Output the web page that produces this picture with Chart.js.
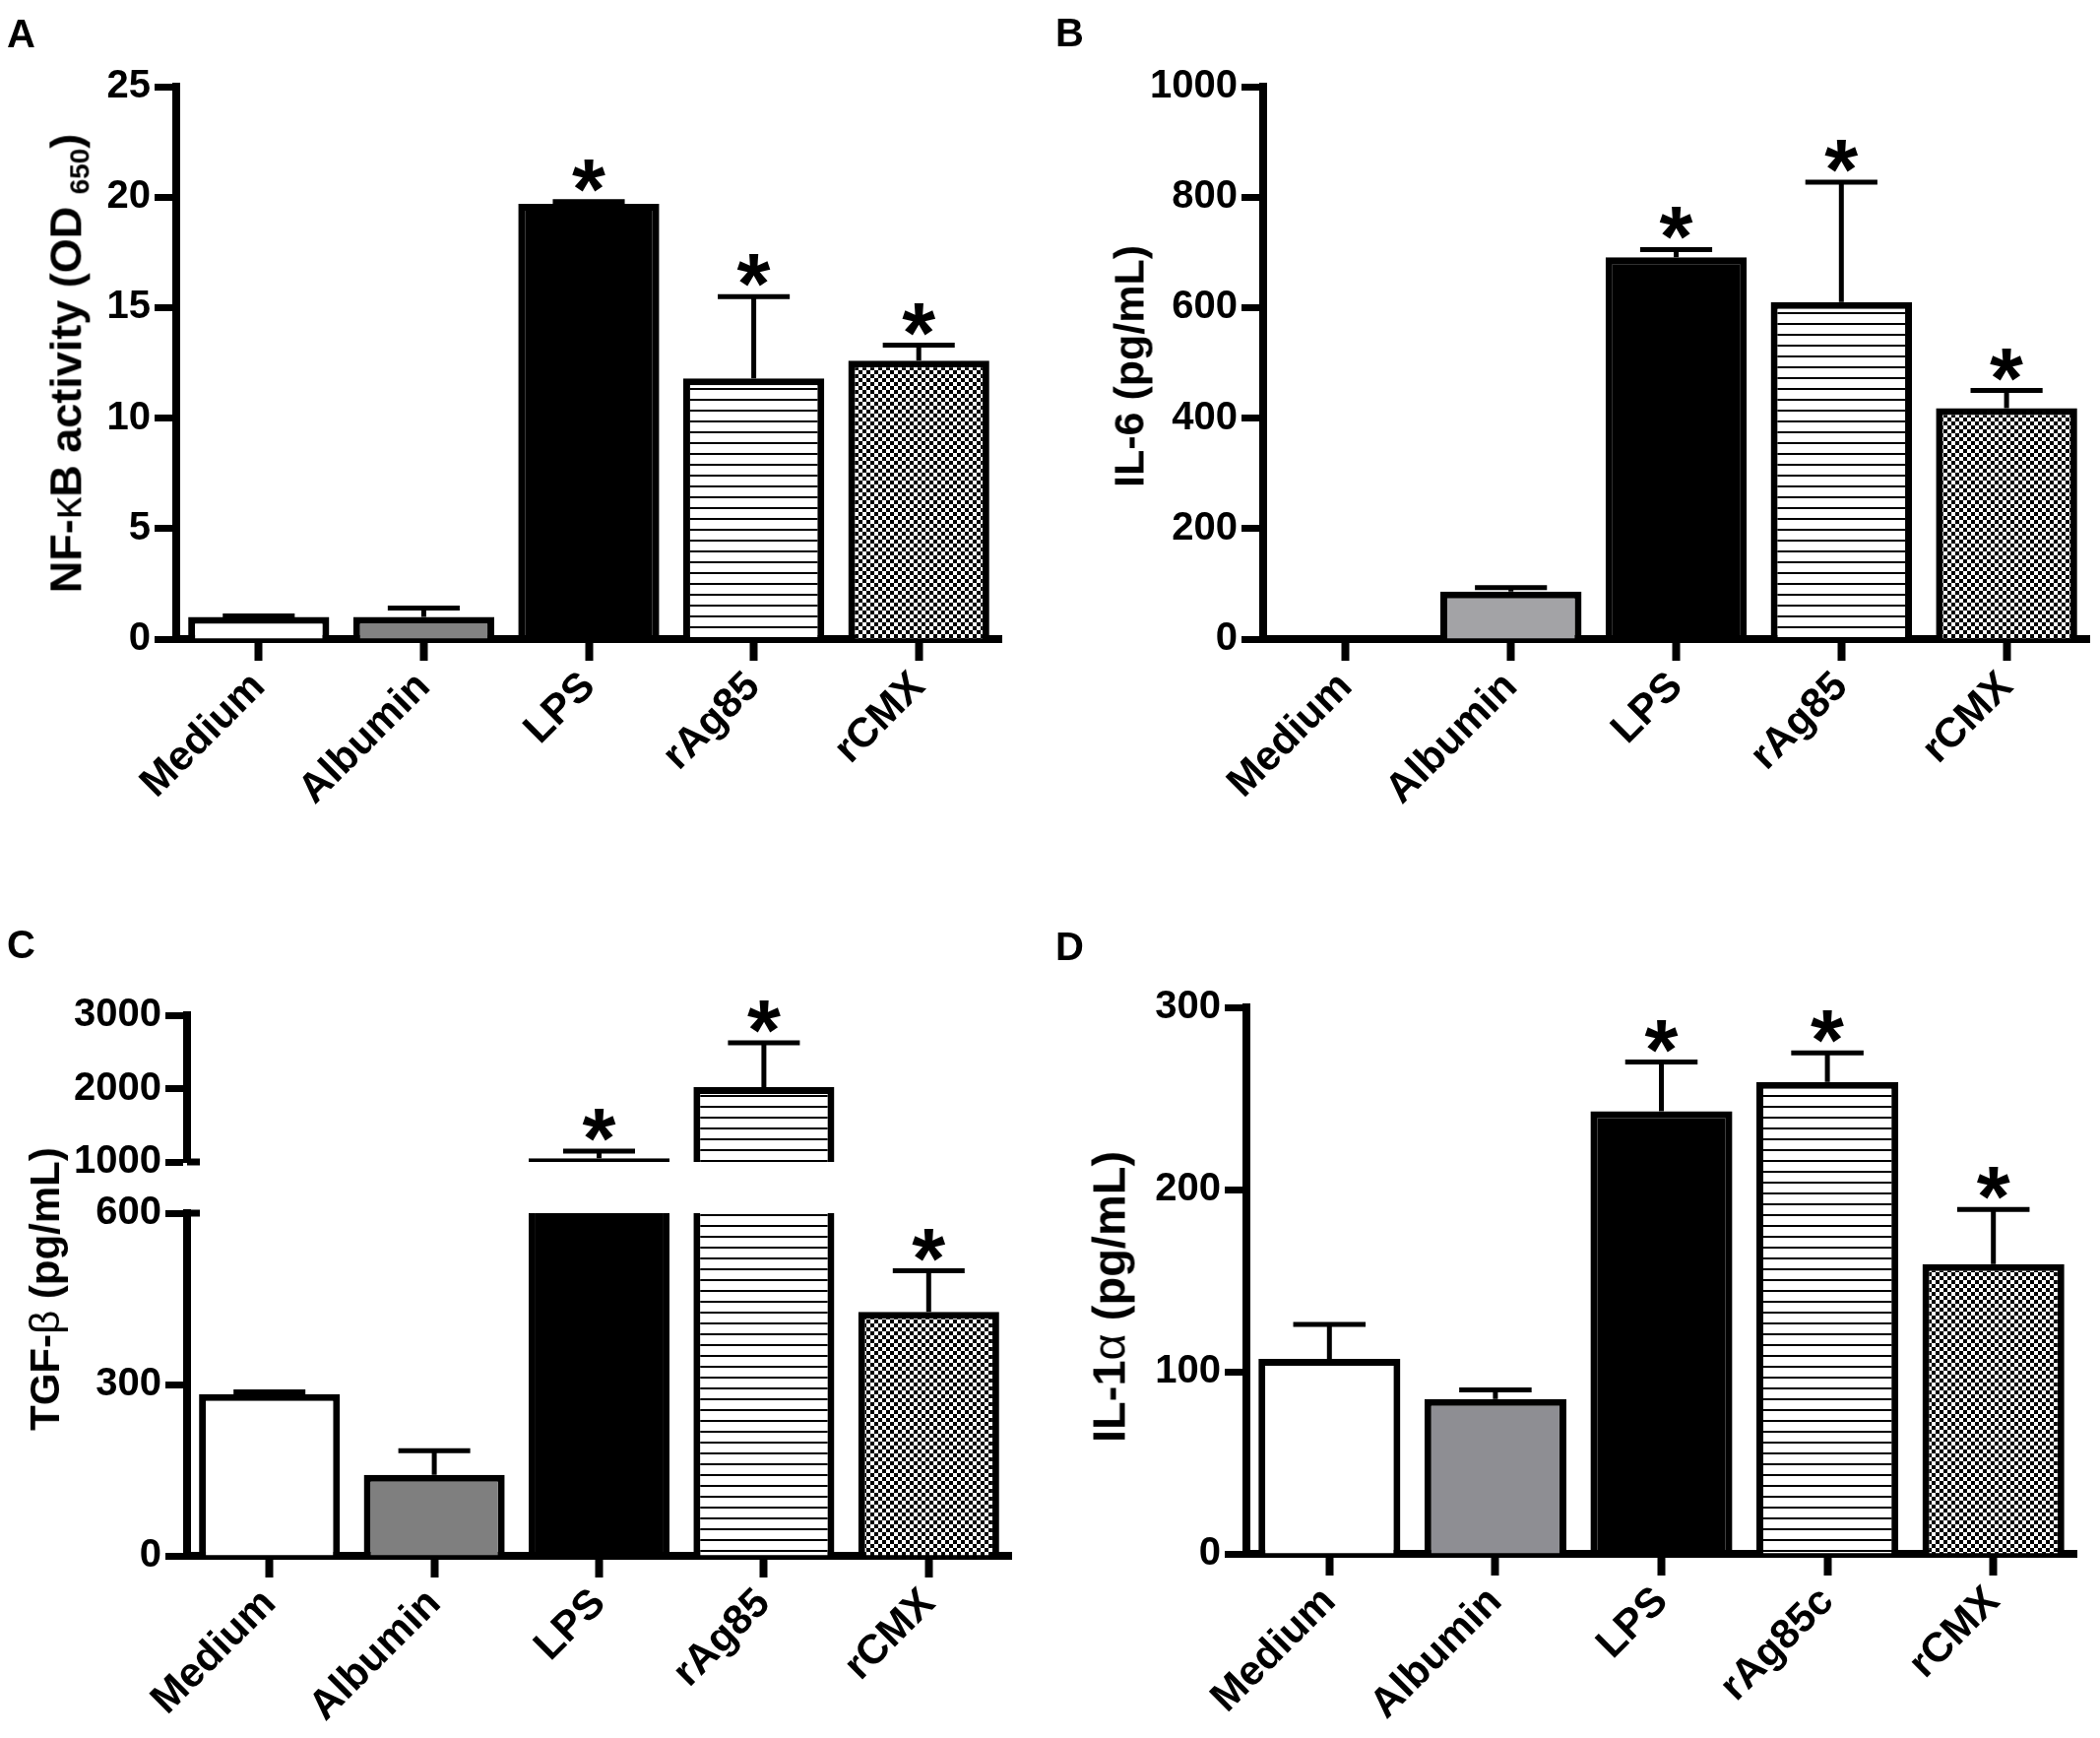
<!DOCTYPE html>
<html>
<head>
<meta charset="utf-8">
<script src="https://cdn.jsdelivr.net/npm/chart.js@4.4.1/dist/chart.umd.min.js"></script>
<style>
  body { margin: 0; background: #fff; }
  #fig { position: relative; width: 2133px; height: 1765px; overflow: hidden; background: #fff; }
  canvas { position: absolute; }
  .panel, .ytitle { position: absolute; font-family: "Liberation Sans", Arial, sans-serif; font-weight: bold; color: #000; line-height: 1; white-space: nowrap; }
  .panel { font-size: 40px; }
  .ytitle { transform: translate(-50%, -50%) rotate(-90deg); }
  .ytitle .gr { font-weight: normal; }
  .ytitle sub { font-size: 0.62em; vertical-align: -0.3em; }
</style>
</head>
<body>
<div id="fig">
  <canvas id="chartA" style="left:0;top:0"></canvas>
  <canvas id="chartB" style="left:1066px;top:0"></canvas>
  <canvas id="chartCTop" style="left:0;top:960px"></canvas>
  <canvas id="chartCBottom" style="left:0;top:1180px"></canvas>
  <canvas id="chartD" style="left:1066px;top:960px"></canvas>

  <div class="panel" style="left:7px;top:14px">A</div>
  <div class="panel" style="left:1072px;top:13px">B</div>
  <div class="panel" style="left:7px;top:939px">C</div>
  <div class="panel" style="left:1072px;top:941px">D</div>

  <div class="ytitle" style="left:70px;top:369px;font-size:45px">NF-<span class="gr">κ</span>B activity (OD <sub>650</sub>)</div>
  <div class="ytitle" style="left:1147px;top:372px;font-size:43px">IL-6 (pg/mL)</div>
  <div class="ytitle" style="left:46px;top:1309px;font-size:42px">TGF-<span class="gr">β</span> (pg/mL)</div>
  <div class="ytitle" style="left:1126px;top:1317px;font-size:47px">IL-1<span class="gr">α</span> (pg/mL)</div>
</div>

<script>
// Categories
const groups = ['Medium', 'Albumin', 'LPS', 'rAg85', 'rCMX'];
const groupsD = ['Medium', 'Albumin', 'LPS', 'rAg85c', 'rCMX'];
const starred = [false, false, true, true, true];

// A: NF-kB activity (OD650)
const nfkbMean = [1.0, 1.0, 19.7, 11.8, 12.6];
const nfkbUpper = [1.05, 1.4, 19.8, 15.5, 13.3];
const nfkbTicks = [0, 5, 10, 15, 20, 25];

// B: IL-6 (pg/mL)
const il6Mean = [0, 86, 691, 610, 418];
const il6Upper = [0, 93, 705, 827, 450];
const il6Ticks = [0, 200, 400, 600, 800, 1000];

// C: TGF-beta (pg/mL), broken axis
const tgfMean = [283, 142, 1050, 2020, 427];
const tgfUpper = [287, 184, 1146, 2624, 499];
const tgfTicksLow = [0, 300, 600];
const tgfTicksHigh = [1000, 2000, 3000];

// D: IL-1alpha (pg/mL)
const il1aMean = [107, 85, 243, 259, 159];
const il1aUpper = [126, 90, 270, 275, 189];
const il1aTicks = [0, 100, 200, 300];

const FONT = '"Liberation Sans", Arial, sans-serif';
Chart.defaults.font.family = FONT;
Chart.defaults.font.weight = 'bold';
Chart.defaults.color = '#000';

// Fill patterns
function stripes() {
    const c = document.createElement('canvas');
    c.width = 8; c.height = 11;
    const g = c.getContext('2d');
    g.fillStyle = '#fff'; g.fillRect(0, 0, 8, 11);
    g.fillStyle = '#000'; g.fillRect(0, 9, 8, 2);
    return g.createPattern(c, 'repeat');
}
function checker() {
    const c = document.createElement('canvas');
    c.width = 8; c.height = 8;
    const g = c.getContext('2d');
    g.fillStyle = '#fff'; g.fillRect(0, 0, 8, 8);
    g.fillStyle = '#000'; g.fillRect(0, 0, 4, 4); g.fillRect(4, 4, 4, 4);
    return g.createPattern(c, 'repeat');
}

function drawStar(ctx, cx, bottomY) {
    ctx.font = 'bold 100px ' + FONT;
    let m = ctx.measureText('*');
    const size = 100 * 34 / (m.actualBoundingBoxLeft + m.actualBoundingBoxRight);
    ctx.font = 'bold ' + size + 'px ' + FONT;
    m = ctx.measureText('*');
    ctx.textAlign = 'left';
    ctx.textBaseline = 'alphabetic';
    ctx.fillText('*', cx - (m.actualBoundingBoxRight - m.actualBoundingBoxLeft) / 2, bottomY - m.actualBoundingBoxDescent);
}

// SEM bars (upper side only) plus significance stars
const errorBars = {
    id: 'errorBars',
    afterDatasetsDraw(chart, args, opts) {
        const {ctx} = chart;
        const y = chart.scales.y;
        const meta = chart.getDatasetMeta(0);
        const values = chart.data.datasets[0].data;
        ctx.save();
        ctx.strokeStyle = '#000';
        ctx.fillStyle = '#000';
        ctx.lineWidth = 5;
        opts.upper.forEach((hi, i) => {
            const v = values[i];
            if (!(hi > v) || v < y.min || hi > y.max) return;
            const bar = meta.data[i];
            const y0 = y.getPixelForValue(v);
            const y1 = y.getPixelForValue(hi);
            const half = bar.width * 0.255;
            ctx.beginPath();
            ctx.moveTo(bar.x, y0);
            ctx.lineTo(bar.x, y1);
            ctx.moveTo(bar.x - half, y1);
            ctx.lineTo(bar.x + half, y1);
            ctx.stroke();
            if (opts.stars[i]) drawStar(ctx, bar.x, y1 - 10);
        });
        ctx.restore();
    }
};

// small cap on the y axis at the ends of the break
const breakCap = {
    id: 'breakCap',
    afterDraw(chart, args, opts) {
        if (opts.value == null) return;
        const {ctx, chartArea} = chart;
        const py = chart.scales.y.getPixelForValue(opts.value);
        ctx.save();
        ctx.strokeStyle = '#000';
        ctx.lineWidth = 7;
        ctx.beginPath();
        ctx.moveTo(chartArea.left, py);
        ctx.lineTo(chartArea.left + 13, py);
        ctx.stroke();
        ctx.restore();
    }
};

function barChart(id, w, h, cfg) {
    const canvas = document.getElementById(id);
    canvas.width = w; canvas.height = h;
    canvas.style.width = w + 'px'; canvas.style.height = h + 'px';
    const fills = ['#fff', cfg.gray, '#000', stripes(), checker()];
    return new Chart(canvas, {
        type: 'bar',
        data: {
            labels: cfg.labels,
            datasets: [{
                data: cfg.mean,
                backgroundColor: fills,
                borderColor: '#000',
                borderWidth: 7,
                borderSkipped: 'start',
                barPercentage: 0.855,
                categoryPercentage: 1,
                clip: 0
            }]
        },
        options: {
            responsive: false,
            animation: false,
            devicePixelRatio: 1,
            layout: { padding: cfg.pad },
            plugins: {
                legend: { display: false },
                tooltip: { enabled: false },
                errorBars: { upper: cfg.upper, stars: starred },
                breakCap: { value: cfg.breakAt }
            },
            scales: {
                x: {
                    display: cfg.showX !== false,
                    grid: { drawOnChartArea: false, offset: false, tickColor: '#000', tickWidth: 8, tickLength: 22 },
                    border: { display: true, color: '#000', width: 8 },
                    ticks: { color: '#000', font: { size: 42, weight: 'bold' }, maxRotation: 45, minRotation: 45, autoSkip: false, padding: 2 },
                    afterFit: s => { s.height = cfg.xHeight || 0; }
                },
                y: {
                    min: cfg.ticks[0],
                    max: cfg.ticks[cfg.ticks.length - 1],
                    grid: { drawOnChartArea: false, tickColor: '#000', tickWidth: 7, tickLength: 22 },
                    border: { display: true, color: '#000', width: 8 },
                    ticks: { color: '#000', font: { size: 40, weight: 'bold' }, padding: 4, callback: v => String(v) },
                    afterBuildTicks: s => { s.ticks = cfg.ticks.map(v => ({ value: v })); },
                    afterFit: s => { s.width = cfg.yWidth; }
                }
            }
        },
        plugins: [errorBars, breakCap]
    });
}

window.addEventListener('load', function() {
    barChart('chartA', 1066, 880, {
        labels: groups, mean: nfkbMean, upper: nfkbUpper, ticks: nfkbTicks, gray: '#828282',
        pad: { left: 0, top: 88, right: 49, bottom: 0 }, yWidth: 179, xHeight: 231
    });
    barChart('chartB', 1067, 880, {
        labels: groups, mean: il6Mean, upper: il6Upper, ticks: il6Ticks, gray: '#a3a3a6',
        pad: { left: 0, top: 88, right: 11, bottom: 0 }, yWidth: 217, xHeight: 231
    });
    barChart('chartCTop', 1066, 280, {
        labels: groups, mean: tgfMean, upper: tgfUpper, ticks: tgfTicksHigh, gray: '#7f7f7f',
        pad: { left: 0, top: 71, right: 39, bottom: 60 }, yWidth: 190, showX: false, breakAt: 1000
    });
    barChart('chartCBottom', 1066, 585, {
        labels: groups, mean: tgfMean, upper: tgfUpper, ticks: tgfTicksLow, gray: '#7f7f7f',
        pad: { left: 0, top: 52, right: 39, bottom: 0 }, yWidth: 190, xHeight: 185, breakAt: 600
    });
    barChart('chartD', 1067, 805, {
        labels: groupsD, mean: il1aMean, upper: il1aUpper, ticks: il1aTicks, gray: '#8e8e93',
        pad: { left: 0, top: 63, right: 24, bottom: 0 }, yWidth: 200, xHeight: 187
    });
});
</script>
</body>
</html>
